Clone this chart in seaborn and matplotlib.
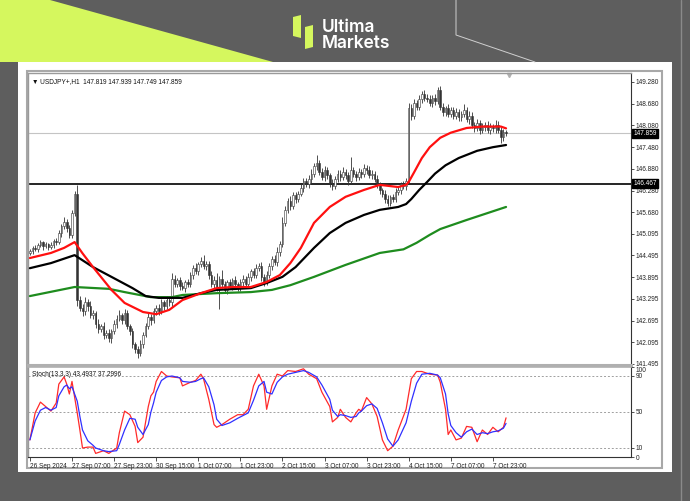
import numpy as np
import pandas as pd
import matplotlib
matplotlib.use("Agg")
import matplotlib.pyplot as plt
import matplotlib.transforms as mtrans
from matplotlib.patches import Polygon, Rectangle
import seaborn as sns

# ---------------- data (USDJPY H1) ----------------
first_open = 144.55
close = [
    144.62, 144.70, 144.66, 144.78, 144.85, 144.74, 144.80, 144.72, 144.78, 144.90,
    144.86, 145.10, 145.30, 145.42, 145.25, 145.05, 145.65, 146.20, 143.25, 143.05,
    142.95, 143.20, 143.10, 142.85, 142.90, 142.60, 142.45, 142.55, 142.30, 142.35,
    142.20, 142.40, 142.60, 142.75, 142.85, 142.70, 142.90, 142.55, 142.40, 142.05,
    141.90, 141.80, 142.05, 142.30, 142.55, 142.80, 142.70, 142.95, 143.05, 142.95,
    143.20, 143.10, 143.25, 143.20, 143.85, 143.70, 143.80, 143.65, 143.60, 143.75,
    143.70, 143.95, 144.15, 144.05, 144.25, 144.35, 144.20, 144.25, 143.95, 143.70,
    143.80, 143.60, 143.85, 143.70, 143.55, 143.75, 143.65, 143.80, 143.70, 143.60,
    143.75, 143.85, 143.70, 143.90, 144.05, 143.95, 144.15, 144.20, 143.90, 143.75,
    143.95, 144.20, 144.40, 144.30, 144.60, 144.80, 145.40, 145.75, 146.00, 145.85,
    146.15, 146.05, 146.20, 146.35, 146.55, 146.45, 146.60, 146.75, 146.95, 147.05,
    146.80, 146.65, 146.85, 146.70, 146.50, 146.40, 146.60, 146.75, 146.65, 146.80,
    146.70, 146.55, 146.85, 146.75, 146.65, 146.80, 146.75, 146.90, 146.85, 146.70,
    146.75, 146.60, 146.45, 146.30, 146.20, 146.05, 145.95, 146.10, 146.05, 146.25,
    146.30, 146.45, 146.40, 146.55, 148.55, 148.35, 148.70, 148.60, 148.80, 148.95,
    148.85, 148.80, 148.70, 148.85, 148.75, 149.05, 148.60, 148.45, 148.55, 148.40,
    148.50, 148.35, 148.45, 148.30, 148.40, 148.50, 148.25, 148.35, 148.10, 148.00,
    148.15, 147.95, 148.05, 148.10, 147.95, 148.05, 148.00, 148.10, 147.95, 147.75,
    147.90, 147.86,
]
# wick lengths above / below the body, in pips (0.01)
wick_up = [
    6, 4, 8, 5, 7, 3, 6, 4, 9, 5, 8, 10, 6, 12, 7, 9, 10, 8, 24, 12,
    10, 15, 8, 12, 9, 7, 14, 6, 10, 8, 12, 7, 10, 9, 14, 6, 10, 8, 5, 9,
    6, 8, 10, 7, 9, 12, 8, 10, 6, 11, 9, 7, 12, 8, 15, 10, 8, 9, 12, 7,
    10, 8, 9, 12, 7, 10, 15, 9, 8, 10, 12, 20, 8, 25, 9, 7, 10, 8, 12, 6,
    9, 10, 7, 12, 8, 9, 10, 7, 12, 8, 10, 9, 8, 11, 12, 9, 14, 10, 8, 12,
    9, 10, 7, 11, 9, 8, 10, 12, 9, 21, 8, 10, 12, 9, 7, 10, 8, 11, 9, 12,
    8, 10, 35, 9, 7, 11, 9, 12, 8, 10, 9, 7, 10, 8, 6, 9, 10, 7, 8, 9,
    10, 8, 9, 7, 15, 12, 10, 9, 11, 8, 10, 9, 12, 8, 10, 9, 12, 10, 8, 11,
    9, 10, 12, 8, 9, 18, 10, 12, 9, 8, 10, 7, 9, 8, 10, 9, 8, 12, 9, 10,
    8, 6,
]
wick_dn = [
    5, 8, 4, 7, 6, 9, 5, 8, 6, 7, 9, 6, 10, 8, 12, 7, 9, 6, 15, 10,
    12, 9, 14, 8, 10, 12, 9, 8, 11, 10, 9, 12, 8, 10, 7, 9, 11, 8, 10, 12,
    9, 14, 8, 10, 7, 9, 12, 8, 9, 10, 8, 11, 9, 10, 12, 8, 9, 10, 7, 11,
    9, 8, 10, 7, 11, 9, 8, 12, 10, 9, 10, 8, 60, 12, 9, 11, 8, 10, 7, 9,
    8, 10, 9, 7, 11, 8, 9, 10, 12, 9, 8, 9, 10, 7, 9, 12, 8, 10, 9, 11,
    8, 10, 9, 7, 11, 8, 9, 10, 8, 9, 10, 8, 9, 11, 12, 10, 8, 9, 10, 7,
    9, 11, 8, 10, 9, 8, 12, 9, 10, 8, 9, 8, 10, 12, 9, 11, 8, 10, 9, 8,
    9, 10, 8, 9, 8, 12, 9, 10, 8, 9, 10, 8, 9, 12, 10, 8, 9, 11, 10, 8,
    9, 10, 8, 11, 9, 10, 8, 12, 9, 10, 8, 10, 9, 11, 8, 10, 9, 12, 8, 15,
    9, 8,
]

# moving averages (bar index, price)
red_bar = [0, 8, 13, 17, 20, 24, 31, 36, 43, 48, 53, 58, 65, 71, 77, 84, 90, 95, 99, 103,
           108, 114, 120, 127, 133, 140, 143, 144, 146, 149, 152, 156, 160, 166, 172, 179, 181]
red_val = [144.42, 144.56, 144.70, 144.86, 144.55, 144.17, 143.54, 143.18, 142.93, 142.87,
           142.99, 143.26, 143.45, 143.59, 143.62, 143.62, 143.76, 143.95, 144.28, 144.70,
           145.39, 145.83, 146.11, 146.30, 146.44, 146.38, 146.44, 146.52, 146.78, 147.18,
           147.48, 147.74, 147.88, 148.01, 148.05, 148.05, 148.00]
blk_bar = [0, 8, 17, 24, 31, 39, 44, 49, 54, 58, 65, 71, 84, 90, 96, 101, 108, 114, 120,
           127, 133, 140, 143, 145, 148, 151, 154, 158, 163, 170, 176, 181]
blk_val = [144.14, 144.28, 144.50, 144.17, 143.90, 143.59, 143.37, 143.32, 143.32, 143.32,
           143.45, 143.54, 143.59, 143.73, 143.90, 144.17, 144.70, 145.11, 145.39,
           145.61, 145.75, 145.83, 145.91, 146.05, 146.30, 146.52, 146.75, 146.98,
           147.18, 147.38, 147.48, 147.54]
grn_bar = [0, 17, 30, 36, 46, 54, 58, 71, 84, 92, 99, 108, 120, 133, 142, 147, 152, 156,
           166, 181]
grn_val = [143.37, 143.62, 143.57, 143.48, 143.34, 143.34, 143.40, 143.45, 143.48, 143.54,
           143.67, 143.90, 144.23, 144.56, 144.66, 144.84, 145.06, 145.22, 145.47, 145.83]

level_price = 146.467
last_price = 147.859
price_ticks = [149.280, 148.680, 148.080, 147.480, 146.880, 146.280, 145.680,
               145.095, 144.495, 143.895, 143.295, 142.695, 142.095, 141.495]

# Stochastic (13,3,3)
stoch_bar = [0, 2, 4, 6, 8, 10, 11, 13, 14, 15, 16, 18, 19, 20, 22, 24, 25, 28, 30, 33,
             34, 36, 38, 40, 41, 43, 45, 46, 47, 48, 50, 52, 54, 57, 58, 61, 63, 65, 66, 68,
             70, 71, 73, 76, 79, 81, 83, 85, 87, 89, 90, 92, 94, 96, 98, 101, 104, 106, 109, 111,
             114, 115, 117, 118, 120, 122, 124, 125, 126, 128, 130, 132, 134, 136, 138, 140, 143, 145, 147, 149,
             152, 155, 156, 158, 159, 160, 162, 164, 166, 168, 170, 172, 174, 176, 178, 180, 181]
stoch_k = [19, 49, 61, 56, 51, 60, 81, 89, 81, 70, 84, 49, 30, 10, 11, 11, 4, 7, 4, 10,
           27, 51, 47, 34, 16, 22, 56, 68, 72, 84, 95, 90, 89, 88, 79, 83, 85, 92, 87, 64,
           36, 33, 36, 42, 47, 47, 53, 79, 92, 79, 53, 79, 92, 90, 96, 95, 98, 92, 87, 72,
           56, 39, 44, 53, 44, 39, 49, 53, 51, 66, 59, 45, 19, 7, 12, 30, 53, 87, 95, 95,
           92, 91, 83, 53, 25, 30, 19, 21, 34, 33, 17, 30, 25, 33, 28, 33, 43.5]
stoch_d = [19, 40, 52, 55, 52, 55, 68, 78, 80, 76, 78, 62, 45, 30, 18, 13, 10, 7, 6, 7,
           14, 30, 43, 42, 33, 25, 36, 50, 60, 72, 85, 89, 90, 88, 84, 83, 84, 87, 88, 78,
           58, 42, 35, 38, 43, 46, 49, 63, 79, 84, 72, 70, 83, 89, 92, 94, 96, 94, 89, 80,
           64, 52, 45, 47, 46, 44, 45, 49, 51, 57, 59, 54, 38, 20, 12, 19, 38, 62, 82, 92,
           93, 91, 88, 70, 48, 35, 27, 22, 28, 31, 25, 27, 26, 28, 29, 32, 37.3]
stoch_levels = [10, 50, 90]

time_bar = [0, 16, 32, 48, 64, 80, 96, 112, 128, 144, 160, 176]
time_labels = ["26 Sep 2024", "27 Sep 07:00", "27 Sep 23:00", "30 Sep 15:00",
               "1 Oct 07:00", "1 Oct 23:00", "2 Oct 15:00", "3 Oct 07:00",
               "3 Oct 23:00", "4 Oct 15:00", "7 Oct 07:00", "7 Oct 23:00"]

# ---------------- figure ----------------
sns.set_style("white")
plt.rcParams["font.family"] = ["Liberation Sans", "DejaVu Sans"]

W, H = 690, 501
LIME = "#d5f75e"
TXT = 4.7
fig = plt.figure(figsize=(W / 100, H / 100), dpi=100, facecolor="#5e5e5e")


def px_box(l, t, r, b):
    return [l / W, 1 - b / H, (r - l) / W, (b - t) / H]


# background / branding
bg = fig.add_axes([0, 0, 1, 1])
bg.set_zorder(-1)
bg.set_xlim(0, W)
bg.set_ylim(H, 0)
bg.axis("off")
bg.add_patch(Polygon([(0, 0), (50, 0), (273, 62), (0, 62)], closed=True, color=LIME, lw=0))
bg.plot([456, 456, 535], [0, 35, 62], color="#d0d0d0", lw=0.7)
bg.plot([681, 681], [0, H], color="#8a8a8a", lw=1)
bg.add_patch(Rectangle((18, 62), 654, 410, color="white", lw=0))
bg.add_patch(Rectangle((27, 71), 635, 397, fill=False, ec="#a8a8a8", lw=1.5))
bg.add_patch(Polygon([(293, 17), (301, 15), (301, 38), (293, 36)], color=LIME, lw=0))
bg.add_patch(Polygon([(305, 27), (313, 25), (313, 47), (305, 49)], color=LIME, lw=0))
bg.text(322, 32, "Ultima", color="white", fontsize=12.5, family="Inter",
        fontweight="semibold", va="baseline")
bg.text(322, 47.5, "Markets", color="white", fontsize=12.5, family="Inter",
        fontweight="semibold", va="baseline")

n = len(close)
bars = np.arange(n)
opens = np.array([first_open] + close[:-1])
closes = np.array(close)
highs = np.maximum(opens, closes) + np.array(wick_up) / 100
lows = np.minimum(opens, closes) - np.array(wick_dn) / 100
df = pd.DataFrame({"bar": bars, "open": opens, "close": closes, "high": highs, "low": lows})

xlim = (-0.72, 228.5)

# ---------------- price panel ----------------
ax = fig.add_axes(px_box(28, 73, 631, 365))
ax.set_facecolor("white")
ax.axhline(last_price, color="#c4c4c4", lw=0.8, zorder=1)
ax.axhline(level_price, color="black", lw=1.2, zorder=1)
ax.vlines(df["bar"], df["low"], df["high"], color="#333333", lw=0.6, zorder=2)
bull = df["close"] >= df["open"]
body_lo = df[["open", "close"]].min(axis=1)
body_h = (df["close"] - df["open"]).abs().clip(lower=0.015)
ax.bar(df["bar"], body_h, bottom=body_lo, width=0.6,
       color=np.where(bull, "white", "#333333"), edgecolor="#333333", lw=0.4, zorder=3)

sns.lineplot(x=grn_bar, y=grn_val, ax=ax, color="#1e8c1e", lw=1.6, zorder=4)
sns.lineplot(x=blk_bar, y=blk_val, ax=ax, color="black", lw=1.6, zorder=4)
sns.lineplot(x=red_bar, y=red_val, ax=ax, color="#ff1010", lw=1.6, zorder=5)

ax.set_xlim(*xlim)
ax.set_ylim(141.467, 149.528)
ax.set_xticks([])
ax.yaxis.tick_right()
ax.set_yticks(price_ticks)
ax.set_yticklabels([f"{p:.3f}" for p in price_ticks])
ax.tick_params(axis="y", labelsize=TXT, length=2, width=0.6, pad=1.5,
               colors="#333333", labelcolor="#222222")
ax.set_xlabel("")
ax.set_ylabel("")
for side, col, lw in [("left", "#9a9a9a", 1), ("top", "#9a9a9a", 1),
                      ("right", "#333333", 0.8), ("bottom", "#b0b0b0", 2.2)]:
    ax.spines[side].set_visible(True)
    ax.spines[side].set_color(col)
    ax.spines[side].set_linewidth(lw)

tr = mtrans.blended_transform_factory(ax.transAxes, ax.transData)
for p in (last_price, level_price):
    ax.text(1.004, p, f"{p:.3f}", transform=tr, color="white", fontsize=TXT,
            va="center", ha="left",
            bbox=dict(boxstyle="square,pad=0.15", fc="black", ec="black"))
ax.text(0.007, 0.982, "\u25bc USDJPY+,H1  147.819 147.939 147.749 147.859",
        transform=ax.transAxes, fontsize=TXT, va="top", ha="left", color="#111111")
ax.plot([182], [149.47], marker="v", color="#b0b0b0", ms=3, clip_on=False)

# ---------------- stochastic panel ----------------
st = fig.add_axes(px_box(28, 367, 631, 457))
st.set_facecolor("white")
for lv in stoch_levels:
    st.axhline(lv, color="#a0a0a0", lw=0.7, ls=(0, (2, 2)), zorder=1)
sns.lineplot(x=stoch_bar, y=stoch_k, ax=st, color="#ff2a2a", lw=0.9, zorder=3)
sns.lineplot(x=stoch_bar, y=stoch_d, ax=st, color="#3030ff", lw=0.9, zorder=4)
st.set_xlim(*xlim)
st.set_ylim(0, 100)
st.yaxis.tick_right()
st.set_yticks([0, 10, 50, 90, 100])
st.set_yticklabels(["0", "10", "50", "90", "100"])
st.tick_params(axis="y", labelsize=TXT, length=2, width=0.6, pad=1.5,
               colors="#333333", labelcolor="#222222")
for lab in st.get_yticklabels():
    if lab.get_text() == "100":
        lab.set_verticalalignment("top")
st.set_xticks(time_bar)
st.set_xticklabels(time_labels, ha="left")
st.tick_params(axis="x", labelsize=TXT, length=3, width=0.6, pad=1.5,
               colors="#333333", labelcolor="#222222", bottom=True)
st.set_xlabel("")
st.set_ylabel("")
for side, col, lw in [("left", "#9a9a9a", 1), ("top", "#b0b0b0", 1.2),
                      ("right", "#333333", 0.8), ("bottom", "#333333", 0.8)]:
    st.spines[side].set_visible(True)
    st.spines[side].set_color(col)
    st.spines[side].set_linewidth(lw)
st.text(0.007, 0.96, "Stoch(13,3,3) 43.4937 37.2996", transform=st.transAxes,
        fontsize=TXT, va="top", ha="left", color="#111111")

fig.savefig("out.png", dpi=100, facecolor=fig.get_facecolor())
